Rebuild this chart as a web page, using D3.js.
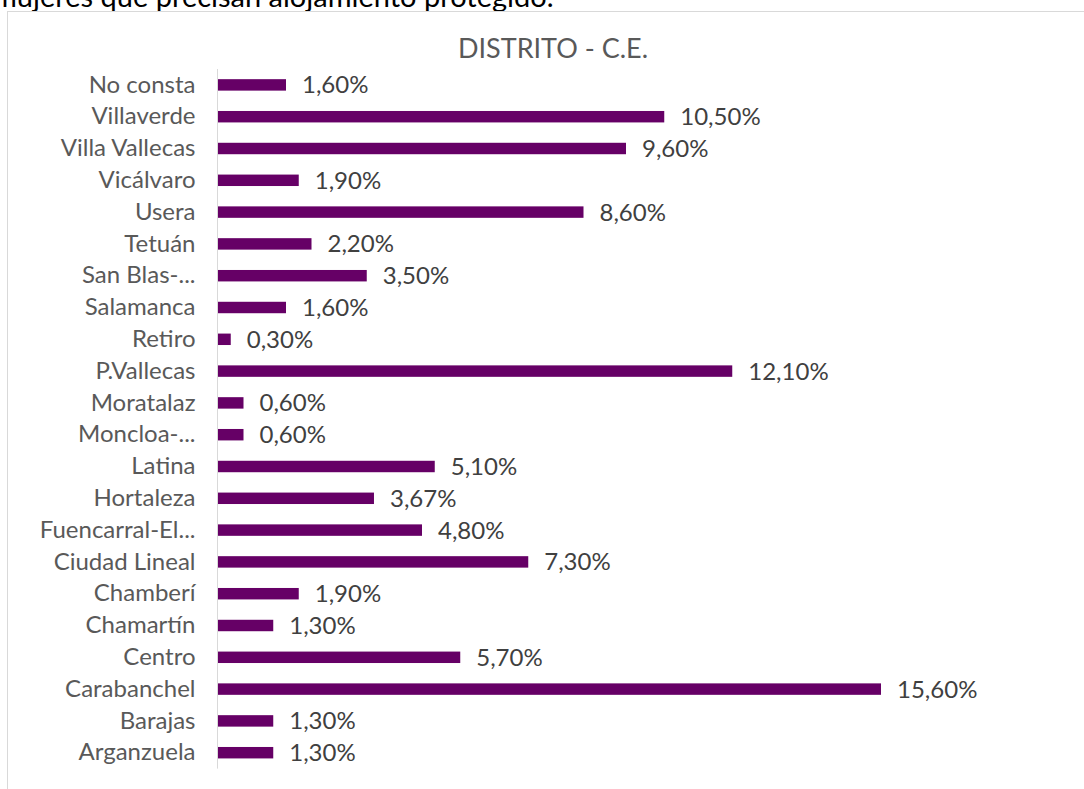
<!DOCTYPE html>
<html>
<head>
<meta charset="utf-8">
<script src="https://cdn.jsdelivr.net/npm/d3@7"></script>
<style>
  body { margin: 0; background: #fff; }
  svg { display: block; font-family: Lato, "Open Sans", sans-serif; }
</style>
</head>
<body>
<svg width="1084" height="789"></svg>
<script>
var width = 1084, height = 789;

var categories = ['No consta', 'Villaverde', 'Villa Vallecas', 'Vicálvaro', 'Usera', 'Tetuán',
    'San Blas-...', 'Salamanca', 'Retiro', 'P.Vallecas', 'Moratalaz', 'Moncloa-...', 'Latina',
    'Hortaleza', 'Fuencarral-El...', 'Ciudad Lineal', 'Chamberí', 'Chamartín', 'Centro',
    'Carabanchel', 'Barajas', 'Arganzuela'];
var values = [1.6, 10.5, 9.6, 1.9, 8.6, 2.2, 3.5, 1.6, 0.3, 12.1, 0.6, 0.6, 5.1, 3.67, 4.8,
    7.3, 1.9, 1.3, 5.7, 15.6, 1.3, 1.3];
var title = 'DISTRITO - C.E.';
var caption = 'mujeres que precisan alojamiento protegido.';

var data = categories.map(function (c, i) {
    return { name: c, value: values[i] };
});

var svg = d3.select('svg');

// caption cut off at the top, as in the source
svg.append('text')
    .attr('x', -7)
    .attr('y', 7)
    .style('font-size', '29px')
    .style('fill', '#000')
    .text(caption);

// chart border
svg.append('rect')
    .attr('x', 7.5)
    .attr('y', 11.5)
    .attr('width', 1200)
    .attr('height', 900)
    .style('fill', 'none')
    .style('stroke', '#d9d9d9');

svg.append('text')
    .attr('x', 553)
    .attr('y', 58)
    .attr('text-anchor', 'middle')
    .style('font-size', '27px')
    .style('fill', '#595959')
    .text(title);

var x = d3.scaleLinear().domain([0, 16]).range([218, 218 + 16 * 42.5]);
var y = d3.scaleBand().domain(categories).range([69, 768.6]).paddingInner(0.64).paddingOuter(0.32);

// category axis
var yAxis = svg.append('g')
    .attr('transform', 'translate(217.5,0)')
    .call(d3.axisLeft(y).tickSize(0).tickPadding(22));
yAxis.select('.domain').style('stroke', '#d9d9d9').attr('d', 'M0,69V768.6');
yAxis.selectAll('text')
    .style('font-size', '24px')
    .style('font-family', 'Lato, sans-serif')
    .style('fill', '#595959');

svg.append('g')
    .selectAll('rect')
    .data(data)
    .join('rect')
    .attr('x', x(0))
    .attr('y', function (d) { return y(d.name); })
    .attr('width', function (d) { return x(d.value) - x(0); })
    .attr('height', y.bandwidth())
    .style('fill', '#660066');

var fmt = d3.format('.2f');
svg.append('g')
    .selectAll('text')
    .data(data)
    .join('text')
    .attr('x', function (d) { return x(d.value) + 16; })
    .attr('y', function (d) { return y(d.name) + y.bandwidth() / 2; })
    .attr('dy', '0.35em')
    .style('font-size', '24px')
    .style('fill', '#404040')
    .text(function (d) { return fmt(d.value).replace('.', ',') + '%'; });
</script>
</body>
</html>
